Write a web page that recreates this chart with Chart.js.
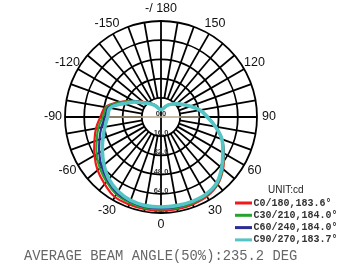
<!DOCTYPE html>
<html>
<head>
<meta charset="utf-8">
<script src="https://cdn.jsdelivr.net/npm/chart.js@4.4.1/dist/chart.umd.min.js"></script>
<style>
    html, body { margin: 0; padding: 0; background: #fff; }
    #wrap { position: relative; width: 338px; height: 265px; }
</style>
</head>
<body>
<div id="wrap"><canvas id="polarChart"></canvas></div>
<script>
// angles clockwise from the top of the diagram
const angleLabels = [180, 170, 160, 150, 140, 130, 120, 110, 100, 90, 80, 70, 60, 50, 40, 30, 20, 10,
    0, -10, -20, -30, -40, -50, -60, -70, -80, -90, -100, -110, -120, -130, -140, -150, -160, -170];

// intensity in cd, same order as angleLabels
const c0_180 = [6, 6.5, 8.5, 11.5, 14, 17, 21, 26, 33, 39, 46, 54, 60.5, 67.5, 73.5, 76.5, 77.5, 78,
    78, 78, 77.5, 77, 73, 69, 64, 59, 55, 50.5, 47, 36.5, 27, 19.5, 15.5, 12, 9, 7];
const c30_210 = [6, 6.5, 8.5, 11.5, 14, 17, 21, 26, 33, 39, 46, 54, 60, 67, 73, 75.5, 76.5, 77,
    77, 77, 76, 74.5, 70.5, 66.5, 62, 57, 53, 48.5, 46, 35.5, 26.5, 19, 15, 12, 8.8, 6.7];
const c60_240 = [6, 6.5, 8.5, 11.5, 14, 17, 21, 26, 33, 39, 46, 54, 60, 66.5, 72.5, 75, 75.5, 76,
    76, 76, 75, 73, 69, 64.5, 59.5, 54.5, 50.5, 46.5, 44.5, 34, 26, 18.5, 14.8, 11.8, 8.6, 6.6];
const c90_270 = [6, 6.5, 8.5, 11.5, 14, 17, 21, 26, 33, 38.5, 46, 54, 59.5, 66, 72, 74.5, 75, 75,
    75, 75, 74, 71.5, 67.5, 62, 56.5, 51.5, 47.5, 44.5, 43, 33, 25, 18, 14.5, 11.5, 8.5, 6.5];
// thin line across the centre (only the 90 / -90 ends)
const crossLine = [null, null, null, null, null, null, null, null, null, 32, null, null, null, null, null, null, null, null,
    null, null, null, null, null, null, null, null, null, 44.5, null, null, null, null, null, null, null, null];

const seriesNames = ["C0/180,183.6\u00b0", "C30/210,184.0\u00b0", "C60/240,184.0\u00b0", "C90/270,183.7\u00b0"];
const seriesColors = ["#f01818", "#26a32e", "#2b2d92", "#55c4c4"];
const ringStep = 16;
const ringMax = 80;
const unitText = "UNIT:cd";
const captionText = "AVERAGE BEAM ANGLE(50%):235.2 DEG";

const polarDecor = {
    id: "polarDecor",
    beforeDatasetsDraw(chart) {
        const scale = chart.scales.r;
        const ctx = chart.ctx;
        const inner = scale.getDistanceFromCenterForValue(ringStep);
        const outer = scale.drawingArea;
        ctx.save();
        // spokes, starting at the first ring (0/180 go through the centre)
        ctx.strokeStyle = "#000";
        ctx.lineWidth = 1.8;
        angleLabels.forEach((a, i) => {
            const from = a === 0 || a === 180 ? 0 : inner;
            const p1 = scale.getPointPosition(i, from);
            const p2 = scale.getPointPosition(i, outer);
            ctx.beginPath();
            ctx.moveTo(p1.x, p1.y);
            ctx.lineTo(p2.x, p2.y);
            ctx.stroke();
        });
        // ring values down the 0 line
        const zeroIdx = angleLabels.indexOf(0);
        ctx.textAlign = "center";
        ctx.textBaseline = "middle";
        ctx.font = "bold 7.5px 'Liberation Sans', Arial, sans-serif";
        ctx.fillStyle = "#333";
        scale.ticks.forEach((t) => {
            const p = scale.getPointPositionForValue(zeroIdx, t.value);
            ctx.fillText(t.value.toFixed(1), p.x, p.y - 3);
        });
        // angle labels every 30 degrees
        ctx.font = "12.5px 'Liberation Sans', Arial, sans-serif";
        ctx.fillStyle = "#111";
        angleLabels.forEach((a, i) => {
            if (a % 30 !== 0) return;
            const p = scale.getPointPosition(i, outer + 12);
            ctx.fillText(a === 180 ? "-/ 180" : String(a), p.x, p.y);
        });
        ctx.restore();
    },
    afterDraw(chart) {
        const ctx = chart.ctx;
        ctx.save();
        ctx.textBaseline = "middle";
        ctx.textAlign = "left";
        ctx.font = "10px 'Liberation Sans', Arial, sans-serif";
        ctx.fillStyle = "#222";
        ctx.fillText(unitText, 268, 190);

        ctx.font = "bold 10px 'Liberation Mono', 'Courier New', monospace";
        seriesNames.forEach((name, i) => {
            const y = 203 + i * 12.3;
            ctx.strokeStyle = seriesColors[i];
            ctx.lineWidth = 3;
            ctx.beginPath();
            ctx.moveTo(235, y);
            ctx.lineTo(252, y);
            ctx.stroke();
            ctx.fillStyle = "#333";
            ctx.fillText(name, 253.5, y);
        });

        ctx.font = "13.8px 'Liberation Mono', 'Courier New', monospace";
        ctx.fillStyle = "#666";
        ctx.fillText(captionText, 24, 256);
        ctx.restore();
    },
};

function curve(label, data, color, width, order) {
    return {
        label: label,
        data: data,
        borderColor: color,
        backgroundColor: "transparent",
        borderWidth: width,
        pointRadius: 0,
        pointHoverRadius: 0,
        tension: 0.4,
        fill: false,
        order: order,
    };
}

document.addEventListener("DOMContentLoaded", () => {
    new Chart(document.getElementById("polarChart"), {
        type: "radar",
        data: {
            labels: angleLabels,
            datasets: [
                curve(seriesNames[0], c0_180, seriesColors[0], 2.2, 4),
                curve(seriesNames[1], c30_210, seriesColors[1], 2.2, 3),
                curve(seriesNames[2], c60_240, seriesColors[2], 2.2, 2),
                curve(seriesNames[3], c90_270, seriesColors[3], 3.6, 1),
                {
                    data: crossLine,
                    borderColor: "#b8a68e",
                    borderWidth: 1.3,
                    pointRadius: 0,
                    tension: 0,
                    spanGaps: true,
                    fill: false,
                    order: 0,
                },
            ],
        },
        options: {
            responsive: true,
            maintainAspectRatio: false,
            animation: false,
            layout: { padding: { left: 65, right: 80, top: 21, bottom: 52 } },
            plugins: { legend: { display: false }, tooltip: { enabled: false } },
            scales: {
                r: {
                    min: 0,
                    max: ringMax,
                    startAngle: 0,
                    ticks: { display: false, stepSize: ringStep },
                    grid: { circular: true, color: "#000", lineWidth: 1.8 },
                    angleLines: { display: false },
                    pointLabels: { display: false },
                },
            },
        },
        plugins: [polarDecor],
    });
});
</script>
</body>
</html>
